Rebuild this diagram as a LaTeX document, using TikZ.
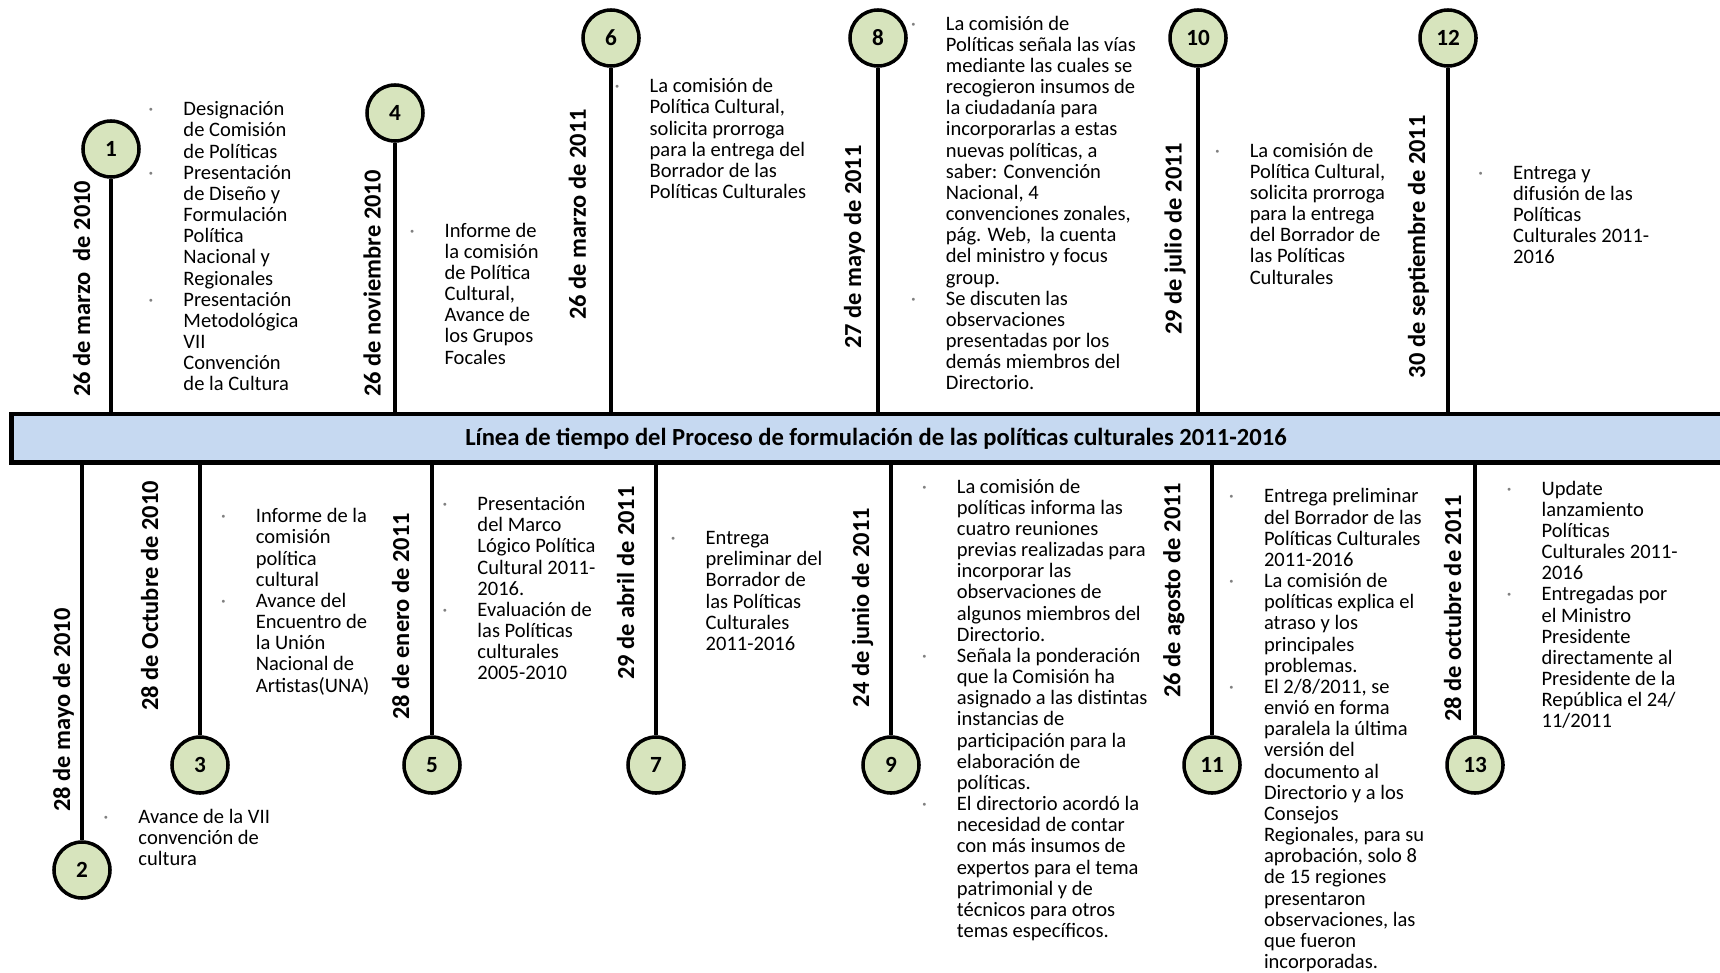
\documentclass[tikz,border=0pt]{standalone}
\usepackage{fontspec}
\setmainfont{Carlito}
\usepackage{xcolor}
\definecolor{barblue}{HTML}{C6D9F1}
\definecolor{dotgreen}{HTML}{D7E4BD}
% small grey dot in front of each item
\newcommand{\bul}{\strut\llap{\makebox[0.875cm][l]{\textcolor{gray}{·}}}}

\begin{document}
\begin{tikzpicture}[x=0.025cm,y=-0.025cm]
\tikzset{
  dot/.style={circle, draw, line width=2.5pt, fill=dotgreen, minimum size=1.4cm, inner sep=0pt, font=\fontsize{16.5}{18}\selectfont\bfseries},
  stem/.style={line width=3.2pt},
  datum/.style={rotate=90, anchor=base west, inner sep=0pt, font=\fontsize{17.4}{20}\selectfont\bfseries},
  info/.style={anchor=north west, align=left, inner sep=0pt, font=\fontsize{14.6}{15.05}\selectfont}
}
\useasboundingbox (0,0) rectangle (1720,972);
% the bar
\node[draw, line width=3.3pt, fill=barblue, minimum width=43.2cm, minimum height=1.215cm,
      font=\fontsize{17.5}{20}\selectfont\bfseries] (bar) at (876,438.4)
      {Línea de tiempo del Proceso de formulación de las políticas culturales 2011-2016};
% circles above the bar
\foreach \n/\x/\y in {1/111/149, 4/395/113, 6/611/38, 8/878/38, 10/1198/38, 12/1448/38} {
  \node[dot] (n\n) at (\x,\y) {\n};
  \draw[stem] (n\n) -- (n\n |- bar.north);
}
% circles below the bar
\foreach \n/\x/\y in {2/82/870, 3/200/765, 5/432/765, 7/656/765, 9/891/765, 11/1212/765, 13/1475/765} {
  \node[dot] (n\n) at (\x,\y) {\n};
  \draw[stem] (n\n) -- (n\n |- bar.south);
}
% the dates
\node[datum] (d1) at (90,397) {26 de marzo\ \ de 2010};
\node[datum] (d4) at (380.7,397) {26 de noviembre 2010};
\node[datum] (d6) at (585.8,320) {26 de marzo de 2011};
\node[datum] (d8) at (861,349) {27 de mayo de 2011};
\node[datum] (d10) at (1181.5,335) {29 de julio de 2011};
\node[datum] (d12) at (1425,378.5) {30 de septiembre de 2011};
\node[datum] (d2) at (70,812) {28 de mayo de 2010};
\node[datum] (d3) at (158,711) {28 de Octubre de 2010};
\node[datum] (d5) at (409,720) {28 de enero de 2011};
\node[datum] (d7) at (634,680) {29 de abril de 2011};
\node[datum] (d9) at (869,707.5) {24 de junio de 2011};
\node[datum] (d11) at (1180.4,698) {26 de agosto de 2011};
\node[datum] (d13) at (1461,722) {28 de octubre de 2011};
% the texts
\node[info] (t1) at (183.2,100.6) {\bul Designación\\de Comisión\\de Políticas\\\bul Presentación\\de Diseño y\\Formulación\\Política\\Nacional y\\Regionales\\\bul Presentación\\Metodológica\\VII\\Convención\\de la Cultura};
\node[info] (t4) at (444.3,222) {\bul Informe de\\la comisión\\de Política\\Cultural,\\Avance de\\los Grupos\\Focales};
\node[info] (t6) at (649.4,77.6) {\bul La comisión de\\Política Cultural,\\solicita prorroga\\para la entrega del\\Borrador de las\\Políticas Culturales};
\node[info] (t8) at (945.6,15) {\bul La comisión de\\Políticas señala las vías\\mediante las cuales se\\recogieron insumos de\\la ciudadanía para\\incorporarlas a estas\\nuevas políticas, a\\saber: Convención\\Nacional, 4\\convenciones zonales,\\pág. Web,\ \ la cuenta\\del ministro y focus\\group.\\\bul Se discuten las\\observaciones\\presentadas por los\\demás miembros del\\Directorio.};
\node[info] (t10) at (1249.5,142) {\bul La comisión de\\Política Cultural,\\solicita prorroga\\para la entrega\\del Borrador de\\las Políticas\\Culturales};
\node[info] (t12) at (1512.8,164) {\bul Entrega y\\difusión de las\\Políticas\\Culturales 2011-\\2016};
\node[info] (t2) at (138.2,808) {\bul Avance de la VII\\convención de\\cultura};
\node[info] (t3) at (255.6,507.6) {\bul Informe de la\\comisión\\política\\cultural\\\bul Avance del\\Encuentro de\\la Unión\\Nacional de\\Artistas(UNA)};
\node[info] (t5) at (477.2,495.5) {\bul Presentación\\del Marco\\Lógico Política\\Cultural 2011-\\2016.\\\bul Evaluación de\\las Políticas\\culturales\\2005-2010};
\node[info] (t7) at (705.4,529.5) {\bul Entrega\\preliminar del\\Borrador de\\las Políticas\\Culturales\\2011-2016};
\node[info] (t9) at (956.6,478) {\bul La comisión de\\políticas informa las\\cuatro reuniones\\previas realizadas para\\incorporar las\\observaciones de\\algunos miembros del\\Directorio.\\\bul Señala la ponderación\\que la Comisión ha\\asignado a las distintas\\instancias de\\participación para la\\elaboración de\\políticas.\\\bul El directorio acordó la\\necesidad de contar\\con más insumos de\\expertos para el tema\\patrimonial y de\\técnicos para otros\\temas específicos.};
\node[info] (t11) at (1263.7,487.8) {\bul Entrega preliminar\\del Borrador de las\\Políticas Culturales\\2011-2016\\\bul La comisión de\\políticas explica el\\atraso y los\\principales\\problemas.\\\bul El 2/8/2011, se\\envió en forma\\paralela la última\\versión del\\documento al\\Directorio y a los\\Consejos\\Regionales, para su\\aprobación, solo 8\\de 15 regiones\\presentaron\\observaciones, las\\que fueron\\incorporadas.};
\node[info] (t13) at (1541.3,480) {\bul Update\\lanzamiento\\Políticas\\Culturales 2011-\\2016\\\bul Entregadas por\\el Ministro\\Presidente\\directamente al\\Presidente de la\\República el 24/\\11/2011};
\end{tikzpicture}
\end{document}
